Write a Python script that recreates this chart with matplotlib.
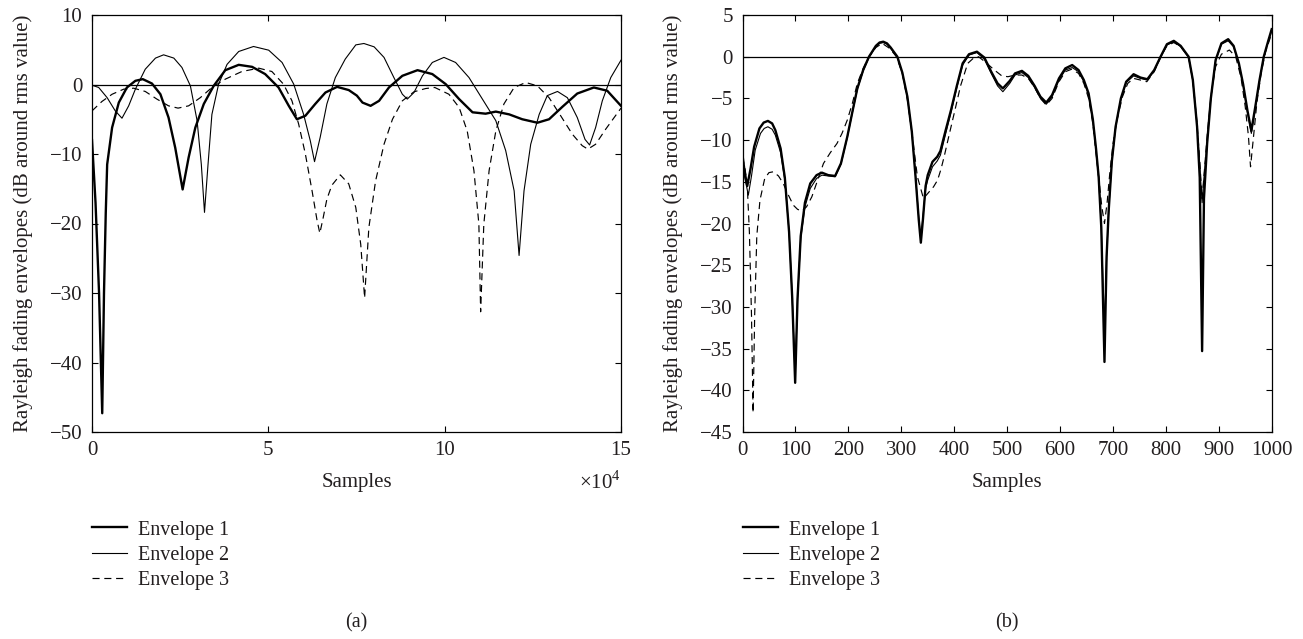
import matplotlib
matplotlib.use("Agg")
import matplotlib.pyplot as plt
from matplotlib.lines import Line2D

# ---------------- Panel (a): samples in units of 1e4 ----------------
a_env1_x = [0, 0.1, 0.2, 0.29, 0.34, 0.39, 0.43, 0.57, 0.76, 0.99, 1.23, 1.44, 1.70, 1.94, 2.17, 2.36,
            2.57, 2.74, 2.93, 3.17, 3.45, 3.78, 4.16, 4.54, 4.91, 5.29, 5.58, 5.81, 6.05, 6.33, 6.62,
            6.95, 7.28, 7.51, 7.67, 7.9, 8.14, 8.42, 8.8, 9.23, 9.65, 10.03, 10.41, 10.79, 11.16,
            11.45, 11.83, 12.2, 12.63, 12.96, 13.34, 13.76, 14.23, 14.61, 15.0]
a_env1_y = [-8.0, -17.0, -30.0, -47.3, -30.0, -18.5, -11.5, -6.2, -2.6, -0.43, 0.53, 0.77, 0.14, -1.4,
            -4.75, -9.1, -15.1, -10.5, -6.2, -2.8, -0.2, 2.06, 2.83, 2.54, 1.5, -0.43, -3.07, -5.0, -4.5,
            -2.8, -1.15, -0.34, -0.8, -1.6, -2.6, -3.07, -2.35, -0.43, 1.25, 2.06, 1.5, 0.05, -2.1, -4.0,
            -4.2, -3.9, -4.3, -5.0, -5.5, -5.0, -3.2, -1.3, -0.43, -0.9, -3.07]

a_env2_x = [0, 0.19, 0.43, 0.66, 0.85, 1.04, 1.23, 1.51, 1.8, 2.03, 2.32, 2.55, 2.79, 2.98, 3.1, 3.19,
            3.29, 3.4, 3.59, 3.83, 4.16, 4.58, 5.01, 5.39, 5.72, 6.0, 6.19, 6.31, 6.47, 6.66, 6.9,
            7.18, 7.48, 7.71, 8.0, 8.28, 8.56, 8.8, 8.94, 9.13, 9.37, 9.65, 9.98, 10.31, 10.69, 11.07,
            11.45, 11.73, 11.97, 12.11, 12.25, 12.44, 12.68, 12.91, 13.2, 13.48, 13.76, 13.98, 14.11,
            14.28, 14.47, 14.71, 15.0]
a_env2_y = [-0.1, -0.43, -1.9, -3.8, -4.85, -3.07, -0.67, 2.2, 3.8, 4.27, 3.8, 2.45, -0.2, -5.2, -11.5,
            -18.4, -11.5, -4.3, 0.05, 2.9, 4.75, 5.47, 4.94, 3.17, 0.05, -4.3, -8.1, -11.1, -7.6, -2.8,
            1.0, 3.65, 5.7, 5.9, 5.42, 3.9, 1.0, -1.4, -2.1, -1.15, 1.25, 3.17, 3.9, 3.17, 1.0, -2.1,
            -5.2, -9.5, -15.3, -24.6, -15.3, -8.6, -4.3, -1.6, -1.0, -1.9, -4.75, -7.9, -8.7, -6.2,
            -2.35, 1.0, 3.5]

a_env3_x = [0, 0.28, 0.57, 0.9, 1.18, 1.51, 1.84, 2.17, 2.44, 2.74, 3.07, 3.4, 3.78, 4.25, 4.73, 5.1,
            5.43, 5.67, 5.86, 6.05, 6.24, 6.38, 6.46, 6.55, 6.66, 6.8, 7.04, 7.28, 7.48, 7.62, 7.73,
            7.85, 8.04, 8.28, 8.52, 8.8, 9.13, 9.46, 9.72, 10.12, 10.41, 10.64, 10.83, 10.97, 11.02,
            11.11, 11.26, 11.45, 11.68, 11.97, 12.3, 12.63, 12.96, 13.29, 13.62, 13.9, 14.06, 14.28,
            14.57, 15.0]
a_env3_y = [-3.8, -2.45, -1.4, -0.67, -0.53, -1.0, -2.1, -3.07, -3.4, -3.07, -1.9, -0.43, 0.77, 1.87,
            2.35, 1.87, 0.05, -2.35, -5.7, -10.0, -15.3, -19.5, -21.4, -19.3, -16.5, -14.5, -13.0,
            -14.3, -17.7, -23.0, -30.7, -20.6, -13.9, -8.6, -5.0, -2.35, -1.05, -0.58, -0.43, -1.4,
            -3.3, -6.7, -12.4, -20.1, -32.7, -20.1, -12.4, -6.7, -2.8, -0.43, 0.29, -0.2, -1.9, -4.5,
            -7.15, -8.8, -9.3, -8.6, -6.4, -3.4]

# ---------------- Panel (b): samples ----------------
b_env1_x = [0, 4, 9, 15, 22, 32, 40, 48, 56, 62, 72, 80, 88, 94, 99.5, 104, 110, 118, 128, 140, 150,
            162, 175, 186, 198, 208, 217, 228, 239, 252, 259, 266, 273, 280, 292.6, 302, 311.6, 320, 327,
            333, 337, 341, 346, 350, 359, 368, 374, 384, 394, 405, 416, 428, 443, 457, 470, 482, 492,
            505, 515, 528, 540, 552, 563, 574, 585, 598, 610, 623, 635, 645, 654, 662, 668, 673, 678,
            684, 688, 692, 698, 705, 715, 725, 739, 752, 765, 778, 790, 802, 815, 828, 843, 851, 859,
            864, 868.5, 872, 878, 885, 894, 905, 917.7, 928, 938, 946, 954, 961.5, 969, 977, 985, 993,
            1000]
b_env1_y = [-11.8, -13.8, -15.5, -13.5, -10.8, -8.6, -7.9, -7.7, -8.0, -8.8, -11.0, -14.5, -21.0, -29.0,
            -39.1, -29.0, -21.5, -17.5, -15.2, -14.2, -13.9, -14.2, -14.3, -12.8, -9.6, -6.5, -3.8, -1.6,
            0.0, 1.3, 1.7, 1.8, 1.6, 1.1, 0.0, -1.9, -4.8, -9.0, -14.4, -19.5, -22.3, -19.5, -15.5,
            -14.2, -12.6, -12.0, -11.3, -8.8, -6.4, -3.5, -0.8, 0.3, 0.6, -0.1, -1.8, -3.2, -3.8, -2.9,
            -2.0, -1.7, -2.3, -3.5, -4.8, -5.5, -4.6, -2.6, -1.4, -1.0, -1.6, -2.8, -4.4, -7.5, -11.0,
            -14.4, -20.5, -36.6, -24.0, -18.4, -12.5, -8.4, -5.0, -3.0, -2.1, -2.5, -2.7, -1.6, 0.0, 1.5,
            1.9, 1.3, 0.0, -2.8, -8.4, -14.5, -35.3, -17.0, -10.4, -5.0, -0.4, 1.6, 2.1, 1.3, -0.8,
            -3.3, -6.4, -8.9, -6.0, -2.8, 0.0, 1.8, 3.3]

b_env2_x = [0, 4, 11, 17, 24, 34, 41, 48, 56, 62, 72, 80, 88, 94, 99.5, 104, 110, 118, 128, 140, 150,
            162, 175, 186, 198, 208, 217, 228, 239, 252, 259, 266, 273, 280, 292.6, 302, 311.6, 320, 327,
            333, 337, 341, 346, 350, 359, 368, 374, 384, 394, 405, 416, 428, 443, 457, 470, 482, 492,
            505, 515, 528, 540, 552, 563, 574, 585, 598, 610, 623, 635, 645, 654, 662, 668, 673, 678,
            684, 688, 692, 698, 705, 715, 725, 739, 752, 765, 778, 790, 802, 815, 828, 843, 851, 859,
            864, 868.5, 872, 878, 885, 894, 905, 917.7, 928, 938, 946, 954, 961.5, 969, 977, 985, 993,
            1000]
b_env2_y = [-12.2, -14.4, -16.6, -14.3, -11.2, -9.2, -8.6, -8.4, -8.7, -9.4, -11.5, -14.8, -21.0, -29.0,
            -38.5, -29.0, -21.8, -18.0, -15.8, -14.6, -14.2, -14.3, -14.4, -12.9, -9.7, -6.6, -3.9, -1.7,
            -0.1, 1.2, 1.6, 1.7, 1.5, 1.0, -0.1, -2.0, -4.9, -9.1, -14.3, -19.3, -21.8, -19.2, -15.8,
            -14.8, -13.2, -12.5, -11.8, -9.2, -6.7, -3.7, -1.0, 0.2, 0.5, -0.3, -2.0, -3.5, -4.2, -3.2,
            -2.2, -1.9, -2.5, -3.7, -5.0, -5.7, -4.8, -2.8, -1.6, -1.3, -1.8, -3.0, -4.6, -7.7, -11.2,
            -14.6, -20.5, -33.0, -24.0, -18.4, -12.6, -8.5, -5.1, -3.1, -2.3, -2.6, -2.8, -1.7, -0.1, 1.4,
            1.8, 1.2, -0.1, -2.9, -8.3, -13.0, -17.5, -14.5, -10.2, -5.0, -0.5, 1.5, 1.9, 1.2, -0.9,
            -3.4, -6.6, -9.2, -6.2, -2.9, -0.1, 1.7, 3.1]

b_env3_x = [0, 5, 9, 13, 17, 20, 23, 27, 33, 42, 50, 58, 68, 77, 86, 96, 104, 112, 121, 131, 142, 153,
            166, 178.6, 188, 198, 208, 217, 228, 239, 252, 264, 278, 291, 302, 311.6, 320, 330.5, 342,
            352.7, 361, 368.6, 375, 381, 390, 400, 412, 425.6, 436, 446, 460, 476, 490, 501.6, 515, 528,
            540, 552, 563, 574, 585, 598, 610, 622, 635, 645, 654, 662, 668, 674, 679, 684, 689, 694,
            700, 708, 718, 728, 739, 752, 764, 778, 790, 802, 815, 828, 843, 851, 859, 864, 868.5, 873,
            878, 885, 894, 905, 920, 932, 942, 950, 956, 960, 965, 972, 980, 988, 1000]
b_env3_y = [-12.0, -13.5, -15.5, -21.0, -31.0, -42.7, -31.0, -21.5, -17.2, -14.6, -13.9, -13.8, -14.3,
            -15.2, -16.5, -17.8, -18.3, -18.5, -18.0, -16.8, -14.8, -12.8, -11.5, -10.4, -9.2, -7.6, -5.5,
            -3.2, -1.4, 0.0, 1.1, 1.6, 1.0, 0.0, -2.0, -5.2, -9.0, -14.4, -17.0, -16.2, -15.6, -14.8,
            -13.5, -12.0, -9.5, -6.8, -3.5, -0.8, -0.2, 0.0, -0.7, -1.6, -2.3, -2.4, -2.2, -2.2, -2.6,
            -3.7, -5.0, -5.8, -5.0, -3.0, -1.8, -1.5, -2.0, -3.2, -5.0, -8.0, -11.5, -15.0, -18.0, -20.0,
            -17.5, -14.0, -10.5, -7.5, -4.8, -3.2, -2.6, -2.8, -3.0, -1.8, 0.0, 1.3, 1.7, 1.2, 0.0, -2.8,
            -8.0, -12.5, -17.0, -13.5, -9.5, -4.8, -1.2, 0.3, 0.8, 0.0, -2.5, -6.0, -9.5, -13.2, -10.0,
            -5.5, -2.0, 0.5, 2.8]

legend_labels = ["Envelope 1", "Envelope 2", "Envelope 3"]
ylabel_text = "Rayleigh fading envelopes (dB around rms value)"
a_xticks = [0, 5, 10, 15]
a_yticks = [10, 0, -10, -20, -30, -40, -50]
b_xticks = list(range(0, 1001, 100))
b_yticks = list(range(5, -46, -5))

# ---------------- Styling ----------------
plt.rcParams['font.family'] = ['Liberation Serif', 'DejaVu Serif']
plt.rcParams['mathtext.fontset'] = 'custom'
plt.rcParams['mathtext.rm'] = 'Liberation Serif'
TXT = '#231f20'
FS = 15

W, H = 1303, 639
fig = plt.figure(figsize=(W / 100, H / 100), dpi=100)

def px_axes(l, t, r, b):
    return fig.add_axes([l / W, 1 - b / H, (r - l) / W, (b - t) / H])

axA = px_axes(92, 15, 621, 432)
axB = px_axes(742.5, 15, 1271.7, 432)

thick = dict(color='black', lw=1.7, solid_joinstyle='round')
thin = dict(color='black', lw=0.8, solid_joinstyle='round')
dash = dict(color='black', lw=0.85, linestyle=(0, (6, 4)))

def style(ax, xt, yt, xlim, ylim):
    ax.set_xlim(*xlim)
    ax.set_ylim(*ylim)
    ax.set_xticks(xt)
    ax.set_yticks(yt)
    ax.set_xticklabels([str(v) for v in xt])
    ax.set_yticklabels([("\u2212" + str(-v)) if v < 0 else str(v) for v in yt])
    ax.tick_params(direction='in', top=True, right=True, length=4, width=0.8,
                   labelsize=FS, colors='black', labelcolor=TXT)
    ax.tick_params(axis='x', pad=6.5)
    ax.tick_params(axis='y', pad=7)
    for s in ax.spines.values():
        s.set_linewidth(0.9)
    ax.axhline(0, color='black', lw=0.9, zorder=1)
    ax.set_ylabel(ylabel_text, fontsize=FS, color=TXT)
    ax.yaxis.set_label_coords(-0.112, 0.5)
    ax.set_xlabel("Samples", fontsize=FS, color=TXT)
    ax.xaxis.label.set_va('center')
    ax.xaxis.set_label_coords(0.5, -0.122)

axA.plot(a_env1_x, a_env1_y, **thick, zorder=3)
axA.plot(a_env2_x, a_env2_y, **thin, zorder=3)
axA.plot(a_env3_x, a_env3_y, **dash, zorder=3)
style(axA, a_xticks, a_yticks, (0, 15), (-50, 10))
axA.text(1.0, -0.122, r"$\times$10$^4$", transform=axA.transAxes, ha='right', va='center',
         fontsize=FS, color=TXT)

axB.plot(b_env1_x, b_env1_y, **thick, zorder=3)
axB.plot(b_env2_x, b_env2_y, **thin, zorder=3)
axB.plot(b_env3_x, b_env3_y, **dash, zorder=3)
style(axB, b_xticks, b_yticks, (0, 1000), (-45, 5))

for ax, tag in ((axA, "(a)"), (axB, "(b)")):
    handles = [Line2D([], [], **thick), Line2D([], [], **thin), Line2D([], [], **dash)]
    ax.legend(handles, legend_labels, loc='upper left', bbox_to_anchor=(0.0, -0.212),
              frameon=False, fontsize=FS - 0.5, handlelength=1.75, handletextpad=0.55,
              labelspacing=0.3, borderpad=0, borderaxespad=0, labelcolor=TXT)
    ax.text(0.5, -0.458, tag, transform=ax.transAxes, ha='center', va='center',
            fontsize=FS - 0.5, color=TXT)

fig.savefig("out.png", dpi=100)
